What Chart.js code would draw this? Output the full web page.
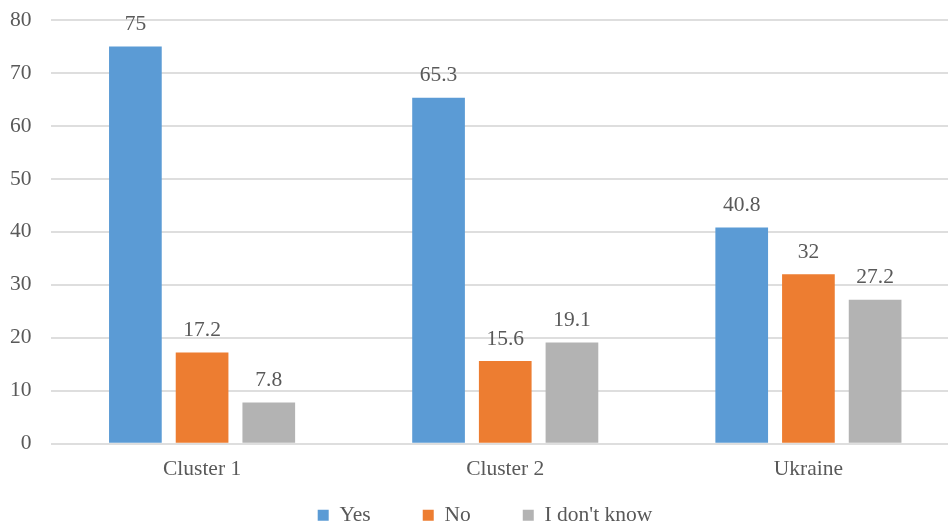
<!DOCTYPE html>
<html lang="en">
<head>
  <meta charset="UTF-8">
  <title>Survey answers by cluster</title>
  <script src="https://cdn.jsdelivr.net/npm/chart.js"></script>
  <style>
    html, body {
      margin: 0;
      padding: 0;
      background: #ffffff;
      overflow: hidden;
    }
    .chart-box {
      width: 960px;
      height: 536px;
    }
  </style>
</head>
<body>
  <div class="chart-box">
    <canvas id="answersChart"></canvas>
  </div>

  <script>
    // answer shares, %
    const categories = ['Cluster 1', 'Cluster 2', 'Ukraine'];
    const seriesNames = ['Yes', 'No', "I don't know"];
    const yesValues = [75, 65.3, 40.8];
    const noValues = [17.2, 15.6, 32];
    const dontKnowValues = [7.8, 19.1, 27.2];
    const yMin = 0;
    const yMax = 80;
    const yStep = 10;

    const textColor = '#595959';
    const serif = "'Liberation Serif', 'Times New Roman', serif";
    const fontSize = 21.5;

    // value labels above each bar
    const barValues = {
      id: 'barValues',
      afterDatasetsDraw(chart) {
        const ctx = chart.ctx;
        ctx.save();
        ctx.font = fontSize + 'px ' + serif;
        ctx.fillStyle = textColor;
        ctx.textAlign = 'center';
        ctx.textBaseline = 'middle';
        chart.data.datasets.forEach((ds, i) => {
          chart.getDatasetMeta(i).data.forEach((bar, j) => {
            ctx.fillText(String(ds.data[j]), bar.x, bar.y - 22);
          });
        });
        ctx.restore();
      }
    };

    new Chart(document.getElementById('answersChart'), {
      type: 'bar',
      data: {
        labels: categories,
        datasets: [
          { label: seriesNames[0], data: yesValues, backgroundColor: '#5B9BD5' },
          { label: seriesNames[1], data: noValues, backgroundColor: '#ED7D31' },
          { label: seriesNames[2], data: dontKnowValues, backgroundColor: '#B3B3B3' }
        ]
      },
      options: {
        responsive: true,
        maintainAspectRatio: false,
        animation: false,
        categoryPercentage: 0.66,
        barPercentage: 0.79,
        borderWidth: 0,
        layout: {
          padding: { left: 10, top: 20, right: 0, bottom: 0 }
        },
        scales: {
          x: {
            grid: { display: false, drawTicks: false },
            border: { display: false },
            ticks: {
              color: textColor,
              padding: 13,
              font: { family: serif, size: fontSize }
            }
          },
          y: {
            min: yMin,
            max: yMax,
            // invisible tick marks keep the labels clear of the grid
            grid: { color: '#dedede', lineWidth: 2, tickLength: 19, tickColor: 'rgba(0,0,0,0)' },
            border: { display: false },
            ticks: {
              stepSize: yStep,
              color: textColor,
              padding: 0,
              font: { family: serif, size: fontSize }
            }
          }
        },
        plugins: {
          tooltip: { enabled: false },
          legend: {
            position: 'bottom',
            labels: {
              boxWidth: 11,
              boxHeight: 11,
              padding: 9,
              color: textColor,
              font: { family: serif, size: fontSize },
              generateLabels(chart) {
                const items = Chart.defaults.plugins.legend.labels.generateLabels(chart);
                // widen the gap between entries
                items.forEach((item, i) => {
                  item.lineWidth = 0;
                  if (i < items.length - 1) item.text += '        ';
                });
                return items;
              }
            }
          }
        }
      },
      plugins: [barValues]
    });
  </script>
</body>
</html>
